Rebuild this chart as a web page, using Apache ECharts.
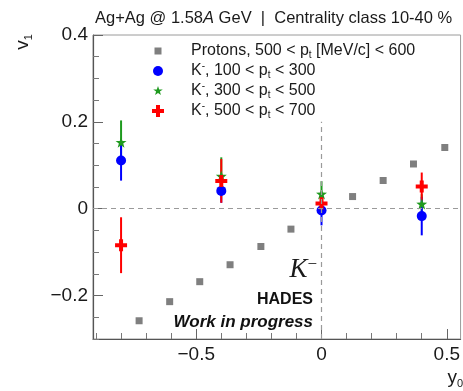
<!DOCTYPE html>
<html>
<head>
<meta charset="utf-8">
<script src="https://cdn.jsdelivr.net/npm/echarts@6/dist/echarts.min.js"></script>
<style>
  html, body { margin: 0; padding: 0; background: #fff; }
  #chart { width: 463px; height: 391px; }
</style>
</head>
<body>
<div id="chart"></div>
<script>
// Directed flow v1 versus rapidity y0, Ag+Ag at 1.58A GeV, centrality 10-40 %

// Protons, 500 < pt < 600 MeV/c
const protonY0 = [-0.728, -0.606, -0.486, -0.365, -0.242, -0.122, 0.124, 0.246, 0.367, 0.492];
const protonV1 = [-0.258, -0.214, -0.168, -0.129, -0.087, -0.047, 0.028, 0.065, 0.103, 0.141];

// K- rapidity bins
const kaonY0 = [-0.8, -0.4, 0.0, 0.4];

// K-, 100 < pt < 300
const kLowV1 = [0.111, 0.041, -0.004, -0.017];
const kLowErr = [0.044, 0.025, 0.032, 0.042];

// K-, 300 < pt < 500
const kMidV1 = [0.153, 0.075, 0.034, 0.011];
const kMidErr = [0.048, 0.041, 0.027, 0.020];

// K-, 500 < pt < 700
const kHighV1 = [-0.084, 0.064, 0.012, 0.051];
const kHighErr = [0.062, 0.048, 0.020, 0.030];

// Axis ticks
const xMajorTicks = [-0.5, 0, 0.5];
const xMinorTicks = [-0.9, -0.8, -0.7, -0.6, -0.4, -0.3, -0.2, -0.1, 0.1, 0.2, 0.3, 0.4];
const yMajorTicks = [-0.2, 0, 0.2, 0.4];
const yMinorTicks = [-0.3, -0.25, -0.15, -0.1, -0.05, 0.05, 0.1, 0.15, 0.25, 0.3, 0.35];

const SANS = "'Liberation Sans', Arial, Helvetica, sans-serif";
const SERIF = "'Liberation Serif', 'Times New Roman', serif";

const C_PROTON = '#7f7f7f';
const C_LOW = '#0000ff';
const C_MID = '#1f9a1f';
const C_HIGH = '#ff0000';

// marker shapes
const STAR = 'path://M0,-10 L2.35,-3.24 L9.51,-3.09 L3.8,1.24 L5.88,8.09 L0,4 L-5.88,8.09 L-3.8,1.24 L-9.51,-3.09 L-2.35,-3.24 Z';
const CROSS = 'path://M-1,-3 L1,-3 L1,-1 L3,-1 L3,1 L1,1 L1,3 L-1,3 L-1,1 L-3,1 L-3,-1 L-1,-1 Z';
// legend icons padded inside a fixed box so each keeps its own size
const L_SQUARE = 'path://M-6,-6 M6,6 M-3.5,-3.5 L3.5,-3.5 L3.5,3.5 L-3.5,3.5 Z';
const L_CIRCLE = 'path://M-6,-6 M6,6 M0,-5 A5,5 0 1,1 0,5 A5,5 0 1,1 0,-5 Z';
const L_STAR = 'path://M-12,-12 M12,12 M0,-10 L2.35,-3.24 L9.51,-3.09 L3.8,1.24 L5.88,8.09 L0,4 L-5.88,8.09 L-3.8,1.24 L-9.51,-3.09 L-2.35,-3.24 Z';
const L_CROSS = 'path://M-3,-3 M3,3 M-1,-3 L1,-3 L1,-1 L3,-1 L3,1 L1,1 L1,3 L-1,3 L-1,1 L-3,1 L-3,-1 L-1,-1 Z';

const NAMES = [
  'Protons, 500 < pt [MeV/c] < 600',
  'K-, 100 < pt < 300',
  'K-, 300 < pt < 500',
  'K-, 500 < pt < 700'
];
const LEGEND_TEXT = {
  [NAMES[0]]: '{sp| }{n|Protons, 500 < p}{s|t}{n| [MeV/c] < 600}',
  [NAMES[1]]: '{sp| }{n|K}{u|-}{n|, 100 < p}{s|t}{n| < 300}',
  [NAMES[2]]: '{sp| }{n|K}{u|-}{n|, 300 < p}{s|t}{n| < 500}',
  [NAMES[3]]: '{sp| }{n|K}{u|-}{n|, 500 < p}{s|t}{n| < 700}'
};

const XMIN = -0.912, XMAX = 0.555, YMIN = -0.3, YMAX = 0.4;

function fmt(v) {
  const s = (Math.abs(v) < 1e-9) ? '0' : String(Math.round(v * 10) / 10);
  return s.replace('-', '\u2212');
}

function pairs(xs, ys) { return xs.map((x, i) => [x, ys[i]]); }
function triples(xs, ys, es) { return xs.map((x, i) => [x, ys[i], es[i]]); }

function errorSeries(name, xs, ys, es, color) {
  return {
    name: name,
    type: 'custom',
    xAxisIndex: 0, yAxisIndex: 0,
    data: triples(xs, ys, es),
    encode: { x: 0, y: 1 },
    silent: true,
    renderItem: function (params, api) {
      const x = api.value(0), y = api.value(1), e = api.value(2);
      const p1 = api.coord([x, y - e]);
      const p2 = api.coord([x, y + e]);
      return {
        type: 'line',
        shape: { x1: p1[0], y1: p1[1], x2: p2[0], y2: p2[1] },
        style: { stroke: color, lineWidth: 2, lineCap: 'square' }
      };
    }
  };
}

function markerSeries(name, xs, ys, symbol, size, color) {
  return {
    name: name,
    type: 'scatter',
    xAxisIndex: 0, yAxisIndex: 0,
    data: pairs(xs, ys),
    symbol: symbol,
    symbolSize: size,
    itemStyle: { color: color, opacity: 1 },
    emphasis: { disabled: true },
    silent: true
  };
}

const chart = echarts.init(document.getElementById('chart'), null, { renderer: 'canvas' });

const axisBase = {
  type: 'value',
  splitLine: { show: false },
  axisPointer: { show: false }
};

const hiddenAxis = {
  type: 'value',
  min: 0, max: 1,
  axisLine: { show: false },
  axisTick: { show: false },
  axisLabel: { show: false },
  splitLine: { show: false },
  axisPointer: { show: false }
};

const option = {
  animation: false,
  backgroundColor: '#ffffff',
  grid: [
    {
      left: 93, right: 1, top: 35, bottom: 52,
      show: true, borderColor: '#9a9a9a', borderWidth: 1,
      backgroundColor: 'transparent'
    },
    // narrow strip at the upper left that holds the v1 title
    { left: 23, width: 1, top: 31, height: 22, show: false }
  ],
  xAxis: [
    Object.assign({}, axisBase, {
      gridIndex: 0,
      min: XMIN, max: XMAX, position: 'bottom',
      axisLine: { show: true, onZero: false, lineStyle: { color: '#555', width: 1.2 } },
      axisTick: { show: true, inside: true, length: 10, customValues: xMajorTicks, lineStyle: { color: '#666', width: 1 } },
      axisLabel: { show: true, customValues: xMajorTicks, formatter: fmt, fontSize: 19, fontFamily: SANS, color: '#1a1a1a', margin: 6 }
    }),
    Object.assign({}, axisBase, {
      gridIndex: 0,
      min: XMIN, max: XMAX, position: 'bottom',
      axisLine: { show: false, onZero: false },
      axisTick: { show: true, inside: true, length: 6, customValues: xMinorTicks, lineStyle: { color: '#777', width: 1 } },
      axisLabel: { show: false }
    }),
    Object.assign({}, hiddenAxis, { gridIndex: 1 })
  ],
  yAxis: [
    Object.assign({}, axisBase, {
      gridIndex: 0,
      min: YMIN, max: YMAX, position: 'left',
      axisLine: { show: true, onZero: false, lineStyle: { color: '#555', width: 1.2 } },
      axisTick: { show: true, inside: true, length: 10, customValues: yMajorTicks, lineStyle: { color: '#666', width: 1 } },
      axisLabel: { show: true, customValues: yMajorTicks, formatter: fmt, fontSize: 19, fontFamily: SANS, color: '#1a1a1a', margin: 5 }
    }),
    Object.assign({}, axisBase, {
      gridIndex: 0,
      min: YMIN, max: YMAX, position: 'left',
      axisLine: { show: false, onZero: false },
      axisTick: { show: true, inside: true, length: 6, customValues: yMinorTicks, lineStyle: { color: '#777', width: 1 } },
      axisLabel: { show: false }
    }),
    Object.assign({}, hiddenAxis, {
      gridIndex: 1,
      position: 'left',
      name: '{v|v}{s|1}',
      nameLocation: 'middle',
      nameGap: 0,
      nameTextStyle: {
        verticalAlign: 'middle',
        rich: {
          v: { fontSize: 19, fontFamily: SANS, color: '#1a1a1a', lineHeight: 22, verticalAlign: 'middle' },
          s: { fontSize: 11, fontFamily: SANS, color: '#1a1a1a', lineHeight: 14, verticalAlign: 'bottom' }
        }
      }
    })
  ],
  legend: {
    orient: 'vertical',
    left: 147, top: 38,
    itemWidth: 12, itemHeight: 12, itemGap: 1,
    selectedMode: false,
    data: [
      { name: NAMES[0], icon: L_SQUARE, itemStyle: { color: C_PROTON } },
      { name: NAMES[1], icon: L_CIRCLE, itemStyle: { color: C_LOW } },
      { name: NAMES[2], icon: L_STAR, itemStyle: { color: C_MID } },
      { name: NAMES[3], icon: L_CROSS, itemStyle: { color: C_HIGH } }
    ],
    formatter: function (name) { return LEGEND_TEXT[name]; },
    textStyle: {
      color: '#1a1a1a', fontFamily: SANS, fontSize: 16,
      rich: {
        sp: { width: 22, fontSize: 16, lineHeight: 19 },
        n: { fontSize: 16, fontFamily: SANS, color: '#1a1a1a', lineHeight: 19, verticalAlign: 'middle' },
        s: { fontSize: 10, fontFamily: SANS, color: '#1a1a1a', lineHeight: 12, verticalAlign: 'bottom' },
        u: { fontSize: 10, fontFamily: SANS, color: '#1a1a1a', lineHeight: 13, verticalAlign: 'top' }
      }
    }
  },
  series: [
    Object.assign(markerSeries(NAMES[0], protonY0, protonV1, 'rect', 7, C_PROTON), {
      markLine: {
        silent: true, symbol: 'none', animation: false,
        label: { show: false },
        lineStyle: { color: '#9a9a9a', width: 1.2, type: [5, 4] },
        data: [
          [{ coord: [XMIN, 0] }, { coord: [XMAX, 0] }],
          [{ coord: [0, YMIN] }, { coord: [0, 0.2] }]
        ]
      }
    }),
    errorSeries(NAMES[2], kaonY0, kMidV1, kMidErr, C_MID),
    markerSeries(NAMES[2], kaonY0, kMidV1, STAR, 11, C_MID),
    errorSeries(NAMES[1], kaonY0, kLowV1, kLowErr, C_LOW),
    markerSeries(NAMES[1], kaonY0, kLowV1, 'circle', 10, C_LOW),
    errorSeries(NAMES[3], kaonY0, kHighV1, kHighErr, C_HIGH),
    markerSeries(NAMES[3], kaonY0, kHighV1, CROSS, 12, C_HIGH)
  ],
  graphic: [
    {
      type: 'text', x: 95, y: 18, silent: true,
      style: {
        text: '{n|Ag+Ag @ 1.58}{i|A}{n| GeV  |  Centrality class 10-40 %}',
        align: 'left', verticalAlign: 'middle',
        rich: {
          n: { fontSize: 16.5, fontFamily: SANS, fill: '#1a1a1a' },
          i: { fontSize: 16.5, fontFamily: SANS, fontStyle: 'italic', fill: '#1a1a1a' }
        }
      }
    },
    {
      type: 'text', x: 463, y: 378, silent: true,
      style: {
        text: '{v|y}{s|0}',
        align: 'right', verticalAlign: 'middle',
        rich: {
          v: { fontSize: 19, fontFamily: SANS, fill: '#1a1a1a', lineHeight: 22, verticalAlign: 'middle' },
          s: { fontSize: 11, fontFamily: SANS, fill: '#1a1a1a', lineHeight: 14, verticalAlign: 'bottom' }
        }
      }
    },
    {
      type: 'text', x: 317, y: 270, silent: true,
      style: {
        text: '{k|K}{m|\u2212}',
        align: 'right', verticalAlign: 'middle',
        rich: {
          k: { fontSize: 27, fontFamily: SERIF, fontStyle: 'italic', fill: '#1a1a1a', lineHeight: 28, verticalAlign: 'middle' },
          m: { fontSize: 17, fontFamily: SERIF, fill: '#1a1a1a', lineHeight: 24, verticalAlign: 'top' }
        }
      }
    },
    {
      type: 'text', x: 313, y: 300, silent: true,
      style: {
        text: 'HADES', align: 'right', verticalAlign: 'middle',
        font: 'bold 16px ' + SANS, fill: '#111'
      }
    },
    {
      type: 'text', x: 313, y: 322, silent: true,
      style: {
        text: 'Work in progress', align: 'right', verticalAlign: 'middle',
        font: 'italic bold 17px ' + SANS, fill: '#111'
      }
    }
  ]
};

chart.setOption(option);
</script>
</body>
</html>
